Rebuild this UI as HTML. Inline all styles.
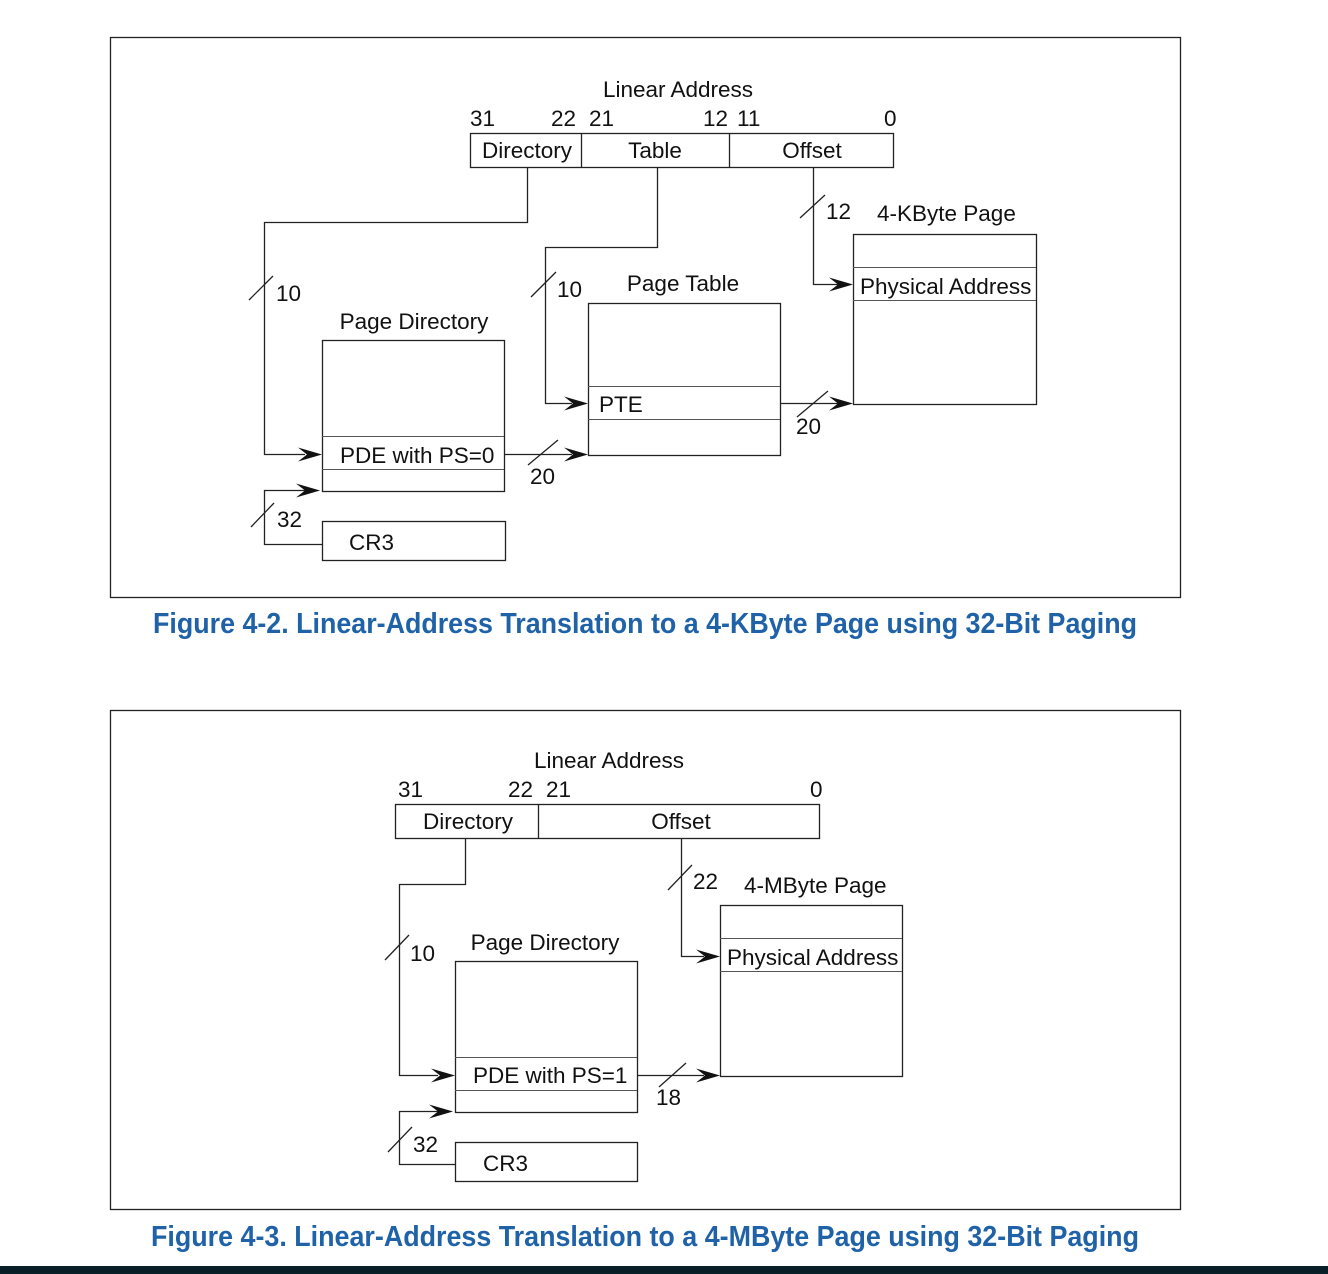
<!DOCTYPE html>
<html><head><meta charset="utf-8"><style>
html,body{margin:0;padding:0;background:#fff;}
svg{display:block;}
text{font-family:"Liberation Sans",sans-serif;font-size:22.5px;fill:#111;}
.cap{font-family:"Liberation Sans Narrow","Liberation Sans",sans-serif;font-weight:bold;font-size:29px;fill:#1f62a8;}
.ln{stroke:#222;stroke-width:1.3;fill:none;}
.gl{stroke:#555;stroke-width:1;}
</style></head><body>
<svg width="1328" height="1274" viewBox="0 0 1328 1274" xmlns="http://www.w3.org/2000/svg">
<defs>
<path id="ah" d="M0,0 L-24,-7 L-15,0 L-24,7 Z" fill="#111"/>
</defs>

<!-- ===== Figure 4-2 ===== -->
<rect x="110.5" y="37.5" width="1070" height="560" class="ln"/>
<text x="678" y="97" text-anchor="middle">Linear Address</text>
<text x="470" y="126">31</text>
<text x="551" y="126">22</text>
<text x="589" y="126">21</text>
<text x="703" y="126">12</text>
<text x="737" y="126">11</text>
<text x="884" y="126">0</text>
<rect x="470.5" y="133.5" width="423" height="34" class="ln"/>
<line x1="581.5" y1="133" x2="581.5" y2="167" class="ln"/>
<line x1="729.5" y1="133" x2="729.5" y2="167" class="ln"/>
<text x="527" y="158" text-anchor="middle">Directory</text>
<text x="655" y="158" text-anchor="middle">Table</text>
<text x="812" y="158" text-anchor="middle">Offset</text>

<polyline points="527.5,167 527.5,222.5 264.5,222.5 264.5,454.5 305,454.5" class="ln"/>
<use href="#ah" x="322" y="454.5"/>
<line x1="249" y1="300" x2="273" y2="276" class="ln"/>
<text x="276" y="301">10</text>
<polyline points="657.5,167 657.5,247.5 545.5,247.5 545.5,403.5 572,403.5" class="ln"/>
<use href="#ah" x="588" y="403.5"/>
<line x1="531" y1="297" x2="556" y2="272" class="ln"/>
<text x="557" y="297">10</text>
<polyline points="813.5,167 813.5,284.5 838,284.5" class="ln"/>
<use href="#ah" x="853" y="284.5"/>
<line x1="800" y1="218" x2="825" y2="195" class="ln"/>
<text x="826" y="219">12</text>
<text x="877" y="221">4-KByte Page</text>

<text x="414" y="329" text-anchor="middle">Page Directory</text>
<rect x="322.5" y="340.5" width="182" height="151" class="ln"/>
<line x1="322" y1="436.5" x2="504" y2="436.5" class="gl"/>
<line x1="322" y1="469.5" x2="504" y2="469.5" class="gl"/>
<text x="340" y="463">PDE with PS=0</text>
<line x1="504" y1="454.5" x2="572" y2="454.5" class="ln"/>
<use href="#ah" x="588" y="454.5"/>
<line x1="528" y1="465" x2="558" y2="440" class="ln"/>
<text x="530" y="484">20</text>

<rect x="322.5" y="521.5" width="183" height="39" class="ln"/>
<text x="349" y="550">CR3</text>
<polyline points="322,544.5 264.5,544.5 264.5,490.5 305,490.5" class="ln"/>
<use href="#ah" x="320" y="490.5"/>
<line x1="251" y1="527" x2="274" y2="503" class="ln"/>
<text x="277" y="527">32</text>

<text x="683" y="291" text-anchor="middle">Page Table</text>
<rect x="588.5" y="303.5" width="192" height="152" class="ln"/>
<line x1="588" y1="386.5" x2="780" y2="386.5" class="gl"/>
<line x1="588" y1="419.5" x2="780" y2="419.5" class="gl"/>
<text x="599" y="412">PTE</text>
<line x1="780" y1="403.5" x2="838" y2="403.5" class="ln"/>
<use href="#ah" x="853" y="403.5"/>
<line x1="797" y1="417" x2="828" y2="391" class="ln"/>
<text x="796" y="434">20</text>

<rect x="853.5" y="234.5" width="183" height="170" class="ln"/>
<line x1="853" y1="267.5" x2="1036" y2="267.5" class="gl"/>
<line x1="853" y1="300.5" x2="1036" y2="300.5" class="gl"/>
<text x="860" y="294">Physical Address</text>

<text class="cap" x="153" y="633" textLength="984" lengthAdjust="spacingAndGlyphs">Figure 4-2.  Linear-Address Translation to a 4-KByte Page using 32-Bit Paging</text>

<!-- ===== Figure 4-3 ===== -->
<rect x="110.5" y="710.5" width="1070" height="499" class="ln"/>
<text x="609" y="768" text-anchor="middle">Linear Address</text>
<text x="398" y="797">31</text>
<text x="508" y="797">22</text>
<text x="546" y="797">21</text>
<text x="810" y="797">0</text>
<rect x="395.5" y="804.5" width="424" height="34" class="ln"/>
<line x1="538.5" y1="804" x2="538.5" y2="838" class="ln"/>
<text x="468" y="829" text-anchor="middle">Directory</text>
<text x="681" y="829" text-anchor="middle">Offset</text>

<polyline points="465.5,838 465.5,884.5 399.5,884.5 399.5,1075.5 438,1075.5" class="ln"/>
<use href="#ah" x="455" y="1075.5"/>
<line x1="385" y1="960" x2="409" y2="935" class="ln"/>
<text x="410" y="961">10</text>

<polyline points="681.5,838 681.5,956.5 704,956.5" class="ln"/>
<use href="#ah" x="720" y="956.5"/>
<line x1="668" y1="890" x2="692" y2="865" class="ln"/>
<text x="693" y="889">22</text>
<text x="744" y="893">4-MByte Page</text>

<text x="545" y="950" text-anchor="middle">Page Directory</text>
<rect x="455.5" y="961.5" width="182" height="151" class="ln"/>
<line x1="455" y1="1057.5" x2="637" y2="1057.5" class="gl"/>
<line x1="455" y1="1090.5" x2="637" y2="1090.5" class="gl"/>
<text x="473" y="1083">PDE with PS=1</text>
<line x1="637" y1="1075.5" x2="704" y2="1075.5" class="ln"/>
<use href="#ah" x="720" y="1075.5"/>
<line x1="659" y1="1087" x2="686" y2="1063" class="ln"/>
<text x="656" y="1105">18</text>

<rect x="455.5" y="1142.5" width="182" height="39" class="ln"/>
<text x="483" y="1171">CR3</text>
<polyline points="455,1164.5 399.5,1164.5 399.5,1111.5 438,1111.5" class="ln"/>
<use href="#ah" x="453" y="1111.5"/>
<line x1="388" y1="1152" x2="412" y2="1127" class="ln"/>
<text x="413" y="1152">32</text>

<rect x="720.5" y="905.5" width="182" height="171" class="ln"/>
<line x1="720" y1="938.5" x2="902" y2="938.5" class="gl"/>
<line x1="720" y1="971.5" x2="902" y2="971.5" class="gl"/>
<text x="727" y="965">Physical Address</text>

<text class="cap" x="151" y="1246" textLength="988" lengthAdjust="spacingAndGlyphs">Figure 4-3.  Linear-Address Translation to a 4-MByte Page using 32-Bit Paging</text>

<rect x="0" y="1266" width="1328" height="8" fill="#0a2028"/>
</svg>
</body></html>
